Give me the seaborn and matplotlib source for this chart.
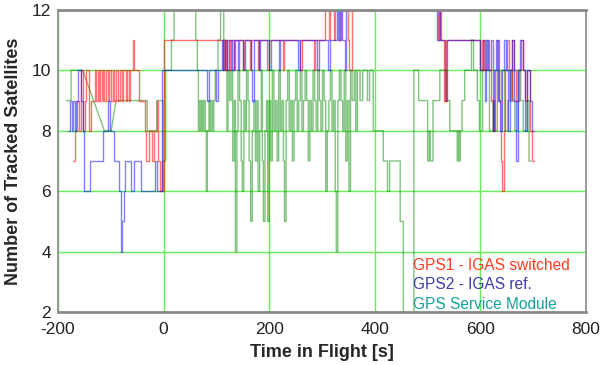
import numpy as np
import pandas as pd
import matplotlib
matplotlib.use('Agg')
import matplotlib.pyplot as plt
import seaborn as sns

# GPS1 - IGAS switched (time [s], tracked satellites), step changes
gps1_t = [-172, -167, -163, -160, -157, -152, -149, -146, -141, -137, -129, -127, -125, -122, -120, -117,
          -115, -112, -109, -106, -103, -99, -96, -93, -90, -86, -83, -79, -76, -72, -70, -66, -63, -58,
          -55, -46, -36, -33, -27, -22, -18, -13, -10, -6, -3, -1,
          0, 112, 114, 118, 120, 126, 128, 134, 136, 150, 153, 164, 166, 178, 181, 196, 199, 226, 229,
          258, 262, 284, 286, 306, 313, 316, 322, 325, 332, 336, 350, 352, 356,
          519, 523, 525, 531, 535,
          600, 603, 606, 612, 616, 620, 624, 627, 632, 636, 639, 641, 644, 647, 650, 654, 657, 660, 664,
          668, 672, 676, 680, 684, 688, 693, 697, 701]
gps1_n = [7, 8, 9, 8, 10, 8, 9, 10, 8, 9, 10, 9, 10, 9, 10, 9,
          10, 9, 10, 9, 10, 9, 10, 9, 10, 9, 10, 9, 10, 9, 10, 9, 10, 11,
          10, 9, 8, 7, 8, 7, 8, 9, 7, 6, 7, 6,
          11, 10, 11, 10, 11, 10, 11, 10, 11, 10, 11, 10, 11, 10, 11, 10, 11, 10, 11,
          10, 11, 10, 11, 12, 11, 12, 11, 12, 11, 12, 11, 10, 12,
          11, 12, 11, 9, 11,
          10, 11, 10, 11, 10, 9, 8, 10, 11, 9, 7, 6, 8, 10, 11, 10, 9, 11, 10,
          9, 10, 11, 10, 9, 10, 8, 7, 7]

# GPS2 - IGAS ref.
gps2_t = [-180, -177, -174, -171, -168, -165, -161, -156, -153, -150, -140, -115, -106, -101, -93, -84,
          -81, -78, -75, -73, -61, -56, -42, -16, -13, -2,
          83, 86, 100, 103, 110, 113, 116, 120, 123, 130, 133, 141, 143, 150, 154, 165, 168, 171, 180,
          183, 200, 203, 218, 221, 255, 259, 290, 294, 312, 316, 328, 331, 335, 338, 343, 346,
          518, 521, 523, 533, 536,
          600, 604, 608, 611, 615, 619, 623, 626, 630, 634, 637, 640, 645, 649, 653, 656, 660, 664,
          668, 671, 675, 680, 684, 689, 694, 698, 702]
gps2_n = [8, 9, 8, 9, 8, 9, 10, 9, 8, 6, 7, 8, 9, 8, 7, 6,
          4, 5, 6, 7, 6, 7, 6, 7, 6, 10,
          9, 10, 9, 10, 11, 10, 11, 10, 11, 10, 11, 10, 11, 10, 11, 10, 9, 11, 10,
          11, 10, 11, 10, 11, 10, 11, 10, 11, 10, 11, 12, 11, 12, 11, 10, 12,
          11, 12, 11, 9, 11,
          10, 11, 9, 11, 10, 11, 8, 10, 11, 9, 8, 10, 11, 10, 8, 10, 11, 9,
          7, 10, 11, 10, 8, 10, 9, 8, 8]

# GPS Service Module
gsm_t = [-184, -175, -153, -112, -99, -90, -31, -13, -1,
         0, 4, 15, 20, 61, 64, 66, 68, 70, 72, 74, 76, 79, 81, 83, 86, 88, 90, 93, 95, 98, 103, 108,
         114, 117, 120, 122, 125, 128, 131, 134, 136, 139, 141, 144, 147, 149, 152, 155, 157, 160, 162,
         165, 168, 171, 174, 177, 179, 182, 185, 187, 189, 192, 195, 197, 200, 203, 206, 209, 212, 215,
         218, 221, 224, 227, 229, 232, 235, 238, 241, 244, 247, 250, 253, 256, 259, 262, 265, 268, 271,
         274, 277, 280, 283, 286, 289, 292, 295, 298, 301, 304, 307, 310, 313, 316, 319, 322, 325, 327,
         330, 333, 336, 339, 342, 345, 348, 351, 354, 357, 361, 364, 367, 372, 377, 386, 390, 397, 416,
         424, 428, 448, 454, 474, 483, 500, 503, 505, 510, 523, 536, 542, 556, 558, 560, 562, 565, 570,
         583, 587, 594, 598, 604, 617, 624, 627, 632, 636, 640, 646, 652, 656, 661, 665, 671, 676, 681,
         688, 692, 695]
gsm_n = [9, 10, 10, 8, 8, 9, 8, 9, 7,
         7, 10, 11, 12, 11, 10, 8, 9, 8, 9, 8, 9, 8, 6, 8, 9, 8, 9, 8, 9, 10, 11, 12,
         11, 10, 8, 10, 9, 10, 7, 9, 4, 8, 10, 9, 7, 6, 9, 8, 10, 9, 7,
         5, 8, 9, 7, 9, 6, 8, 10, 7, 5, 8, 9, 5, 9, 7, 10, 8, 9, 7,
         10, 8, 9, 7, 5, 9, 10, 8, 9, 7, 9, 10, 8, 9, 10, 8, 9, 10, 9,
         7, 9, 8, 10, 9, 8, 10, 9, 8, 10, 9, 6, 8, 9, 10, 8, 9, 6, 4,
         9, 10, 9, 8, 10, 7, 9, 6, 10, 9, 10, 8, 10, 9, 10, 9, 10, 8, 7,
         6, 7, 5, 1, 10, 9, 7, 8, 7, 9, 10, 9, 8, 7, 8, 7, 8, 9, 10,
         11, 10, 9, 8, 10, 8, 9, 8, 10, 9, 10, 8, 9, 10, 9, 8, 10, 9, 8,
         9, 7, 7]
gsm_gaps = [-153, -99]  # data gaps joined by straight lines

labels = ['GPS1 - IGAS switched', 'GPS2 - IGAS ref.', 'GPS Service Module']
text_colors = ['#ff3b1f', '#3c3caa', '#17a09c']


def step_xy(t, v, gaps=()):
    xs, ys = [], []
    for i in range(len(t) - 1):
        xs.append(t[i]); ys.append(v[i])
        if t[i] not in gaps:
            xs.append(t[i + 1]); ys.append(v[i])
    xs.append(t[-1]); ys.append(v[-1])
    return pd.DataFrame({'t': xs, 'n': ys})


sns.set_style('white')
plt.rcParams['font.family'] = ['Liberation Sans', 'DejaVu Sans']
plt.rcParams['axes.unicode_minus'] = False

fig = plt.figure(figsize=(6.03, 3.65), dpi=100)
ax = fig.add_axes([0.096, 0.145, 0.876, 0.828])

ax.set_xlim(-200, 800)
ax.set_ylim(2, 12)
ax.set_xticks(np.arange(-200, 801, 200))
ax.set_yticks(np.arange(2, 13, 2))
ax.grid(True, color='#66ee55', lw=1)
ax.set_axisbelow(True)

sns.lineplot(data=step_xy(gsm_t, gsm_n, gsm_gaps), x='t', y='n', sort=False, estimator=None,
             color='#008800', alpha=0.5, lw=1, ax=ax)
sns.lineplot(data=step_xy(gps1_t, gps1_n), x='t', y='n', sort=False, estimator=None,
             color='#ff0000', alpha=0.55, lw=1, ax=ax)
sns.lineplot(data=step_xy(gps2_t, gps2_n), x='t', y='n', sort=False, estimator=None,
             color='#0000ff', alpha=0.5, lw=1, ax=ax)

for s in ax.spines.values():
    s.set_color('#8a8a8a')
    s.set_linewidth(1.2)
ax.spines['top'].set_linewidth(2)
ax.spines['bottom'].set_linewidth(2)

ax.tick_params(labelsize=12.5, length=0, colors='#222222')
ax.tick_params(axis='x', pad=7)
ax.tick_params(axis='y', pad=5)
ax.set_xlabel('Time in Flight [s]', fontsize=13, fontweight='bold', labelpad=5)
ax.set_ylabel('Number of Tracked Satellites', fontsize=13, fontweight='bold', labelpad=7)

handles = [plt.Line2D([], [], lw=0) for _ in labels]
leg = ax.legend(handles, labels, loc='lower right', frameon=False, handlelength=0, handletextpad=0,
                labelcolor=text_colors, fontsize=11.2, labelspacing=0.3, borderaxespad=0.0,
                bbox_to_anchor=(0.98, -0.02))

fig.savefig('out.png', dpi=100)
